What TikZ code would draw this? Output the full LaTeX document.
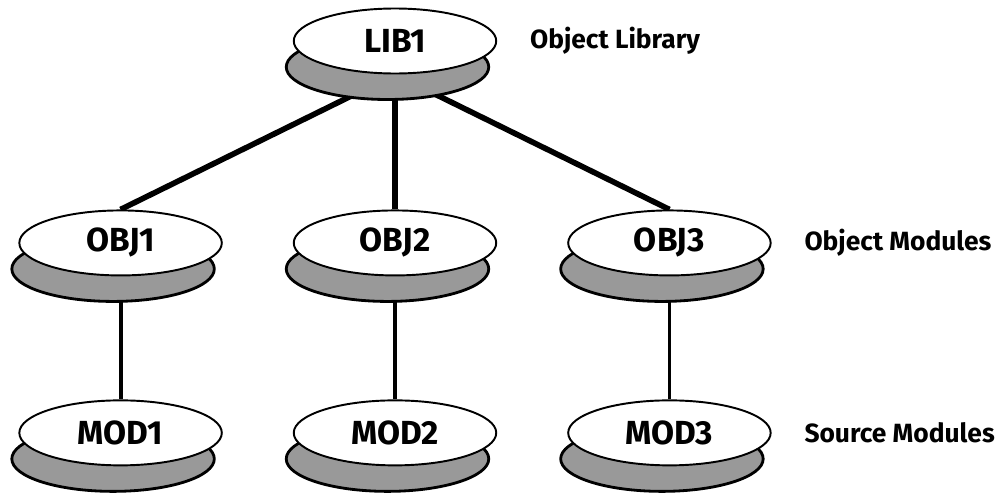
\documentclass[tikz,border=0pt]{standalone}
\usepackage{fontspec}
\setmainfont{Fira Sans}
\usetikzlibrary{positioning,shapes.geometric,shadows,backgrounds}

\begin{document}
\begin{tikzpicture}[
  node distance=1.4cm,
  font=\fontsize{15}{18}\selectfont\bfseries,
  disk/.style={ellipse, draw, line width=1.1pt, fill=white,
               minimum width=4.05cm, minimum height=1.3cm, inner sep=0pt,
               font=\fontsize{19}{22}\selectfont\bfseries,
               general shadow={shadow xshift=-0.15cm, shadow yshift=-0.52cm,
                               fill=black!40, draw=black, line width=1.6pt}},
  trunk/.style={line width=3.2pt},
  stem/.style={line width=2.2pt},
  tag/.style={anchor=west, inner sep=0pt, right=0.65cm of #1}
]
  \useasboundingbox (0,0) rectangle (19.94,-9.9);

  % library, object and source levels
  \node[disk] (lib1) at (7.9,-0.82) {LIB1};
  \node[disk, below=2.7cm of lib1] (obj2) {OBJ2};
  \node[disk, left=of obj2]  (obj1) {OBJ1};
  \node[disk, right=of obj2] (obj3) {OBJ3};
  \node[disk, below=2.46cm of obj1] (mod1) {MOD1};
  \node[disk, below=2.46cm of obj2] (mod2) {MOD2};
  \node[disk, below=2.46cm of obj3] (mod3) {MOD3};

  \node[tag=lib1] (libtag) {Object Library};
  \node[tag=obj3] (objtag) {Object Modules};
  \node[tag=mod3] (modtag) {Source Modules};

  \begin{scope}[on background layer]
    \draw[trunk] (lib1.south) -- (obj1.north);
    \draw[trunk] (lib1.south) -- (obj2.north);
    \draw[trunk] (lib1.south) -- (obj3.north);
    \draw[stem] (obj1.south) -- (mod1.north);
    \draw[stem] (obj2.south) -- (mod2.north);
    \draw[stem] (obj3.south) -- (mod3.north);
  \end{scope}
\end{tikzpicture}
\end{document}
